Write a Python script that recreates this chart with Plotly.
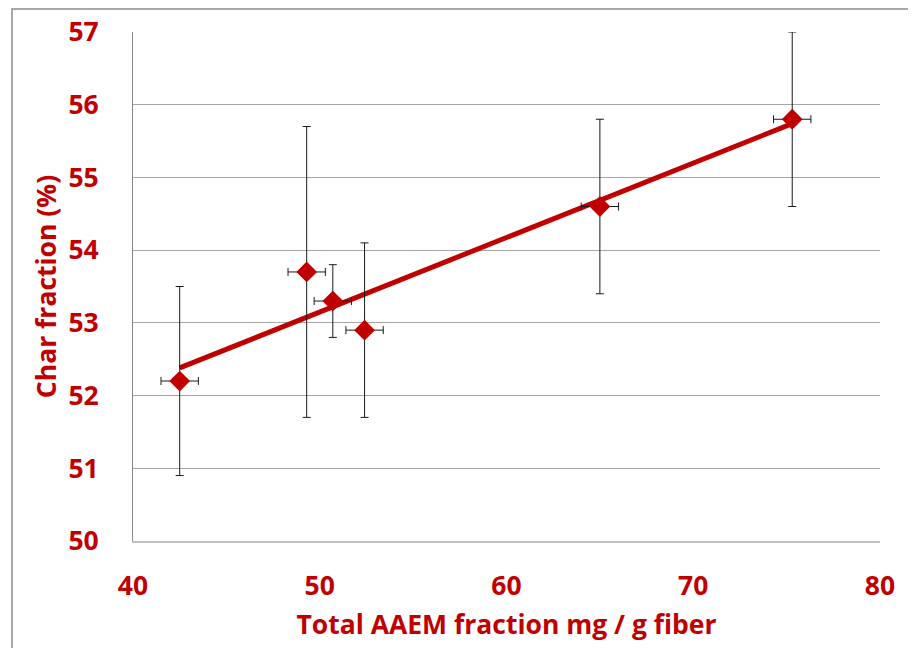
import numpy as np
import plotly.graph_objects as go

# Data
aaem = [42.5, 49.3, 50.7, 52.4, 65.0, 75.3]          # Total AAEM fraction mg / g fiber
char = [52.2, 53.7, 53.3, 52.9, 54.6, 55.8]          # Char fraction (%)
char_err = [1.3, 2.0, 0.5, 1.2, 1.2, 1.2]
aaem_err = [1.0, 1.0, 1.0, 1.0, 1.0, 1.0]
x_ticks = [40, 50, 60, 70, 80]
y_ticks = [50, 51, 52, 53, 54, 55, 56, 57]

RED = "#C00000"
FONT = "Open Sans"

# linear trendline (least squares, as the spreadsheet trendline)
slope, intercept = np.polyfit(aaem, char, 1)
tx = [min(aaem), max(aaem)]
ty = [slope * v + intercept for v in tx]

fig = go.Figure()
fig.add_trace(go.Scatter(
    x=tx, y=ty, mode="lines",
    line=dict(color=RED, width=5),
    hoverinfo="skip", showlegend=False,
))
fig.add_trace(go.Scatter(
    x=aaem, y=char, mode="markers",
    marker=dict(symbol="diamond", size=16, color=RED, line=dict(width=0)),
    error_y=dict(type="data", array=char_err, visible=True, color="#1a1a1a", thickness=1, width=4),
    error_x=dict(type="data", array=aaem_err, visible=True, color="#1a1a1a", thickness=1, width=4),
    showlegend=False,
))

fig.update_layout(
    width=908, height=640,
    margin=dict(l=125, r=36, t=24, b=107),
    paper_bgcolor="white", plot_bgcolor="white",
    font=dict(family=FONT, color=RED),
    xaxis=dict(
        range=[40, 80], tickvals=x_ticks, showgrid=False, zeroline=False,
        showline=True, linecolor="#bfbfbf", linewidth=2, automargin=False,
        tickfont=dict(family=FONT, size=26.5, color=RED, weight="bold"),
        ticks="", ticklabelstandoff=20,
        title=dict(text="Total AAEM fraction mg / g fiber",
                   font=dict(family=FONT, size=26.5, color=RED, weight="bold"), standoff=14),
    ),
    yaxis=dict(
        range=[50, 57], tickvals=y_ticks, showgrid=True, gridcolor="#a6a6a6", gridwidth=1,
        zeroline=False, showline=True, linecolor="#868686", linewidth=1, automargin=False,
        tickfont=dict(family=FONT, size=26.5, color=RED, weight="bold"),
        ticks="", ticklabelstandoff=28,
        title=dict(text="Char fraction (%)",
                   font=dict(family=FONT, size=26.5, color=RED, weight="bold"), standoff=4),
    ),
    shapes=[dict(type="rect", xref="paper", yref="paper",
                 x0=-0.162, x1=1.0415, y0=-0.25, y1=1.0452,
                 line=dict(color="#8c8c8c", width=1.5), layer="below")],
)

fig.write_html("out.html")
